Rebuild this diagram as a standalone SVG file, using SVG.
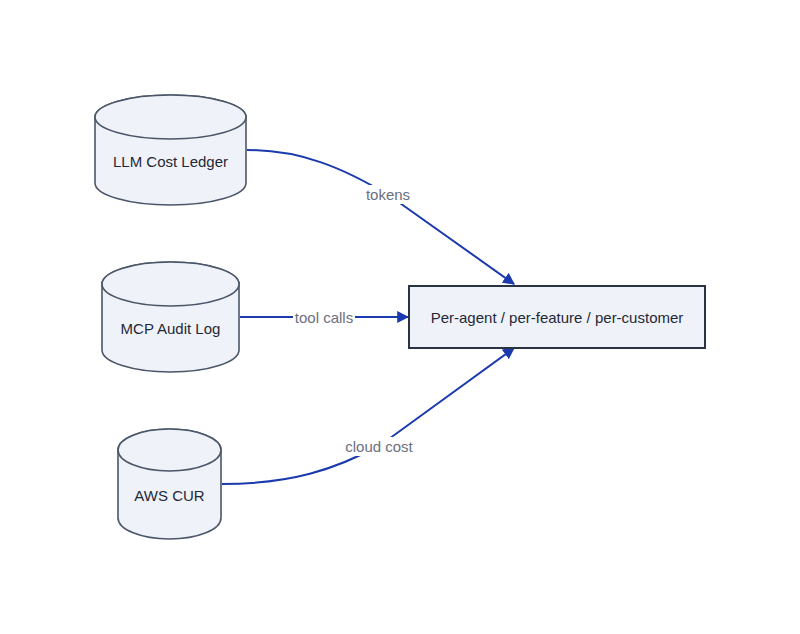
<svg xmlns="http://www.w3.org/2000/svg" width="800" height="634" viewBox="0 0 800 634">
<style>
.cyl{fill:#eff2f8;stroke:#4b5668;stroke-width:1.6}
.box{fill:#eff2f8;stroke:#2a3342;stroke-width:2}
.nt{font-family:"Liberation Sans",Arial,sans-serif;font-size:15px;fill:#1f2937;text-anchor:middle;dominant-baseline:central}
.lt{font-family:"Liberation Sans",Arial,sans-serif;font-size:15px;fill:#6b6f80;text-anchor:middle;dominant-baseline:central}
.e{fill:none;stroke:#1b3aae;stroke-width:2}
.lb{fill:#ffffff}
</style>
<defs>
<marker id="ah" viewBox="0 0 10 10" refX="9" refY="5" markerWidth="6" markerHeight="6" markerUnits="strokeWidth" orient="auto">
<path d="M0,0 L10,5 L0,10 z" fill="#1b3aae"/>
</marker>
</defs>
<rect width="800" height="634" fill="#ffffff"/>
<g id="connectors">
<path class="e" d="M247,150 C300,150 342,167 390,196 L514,284" marker-end="url(#ah)"/>
<path class="e" d="M240,317 L408,317" marker-end="url(#ah)"/>
<path class="e" d="M222,484 C290,484 335,470 382,444 L514,348" marker-end="url(#ah)"/>
<rect class="lb" x="363" y="185" width="50" height="19"/>
<text class="lt" x="388" y="194">tokens</text>
<rect class="lb" x="293" y="308" width="62" height="19"/>
<text class="lt" x="324" y="317">tool calls</text>
<rect class="lb" x="342" y="437" width="74" height="19"/>
<text class="lt" x="379" y="446">cloud cost</text>
</g>
<g id="llm-ledger">
<path class="cyl" d="M95,117 L95,183 A75.5,22 0 0 0 246,183 L246,117 A75.5,22 0 0 0 95,117 Z"/>
<ellipse class="cyl" cx="170.5" cy="117" rx="75.5" ry="22"/>
<text class="nt" x="170.5" y="161">LLM Cost Ledger</text>
</g>
<g id="mcp-audit">
<path class="cyl" d="M102,284 L102,350 A68.5,22 0 0 0 239,350 L239,284 A68.5,22 0 0 0 102,284 Z"/>
<ellipse class="cyl" cx="170.5" cy="284" rx="68.5" ry="22"/>
<text class="nt" x="170.5" y="328">MCP Audit Log</text>
</g>
<g id="aws-cur">
<path class="cyl" d="M118,450 L118,518 A51.5,21 0 0 0 221,518 L221,450 A51.5,21 0 0 0 118,450 Z"/>
<ellipse class="cyl" cx="169.5" cy="450" rx="51.5" ry="21"/>
<text class="nt" x="169.5" y="495">AWS CUR</text>
</g>
<g id="per-agent">
<rect class="box" x="409" y="286" width="296" height="62"/>
<text class="nt" x="557" y="317">Per-agent / per-feature / per-customer</text>
</g>
</svg>
